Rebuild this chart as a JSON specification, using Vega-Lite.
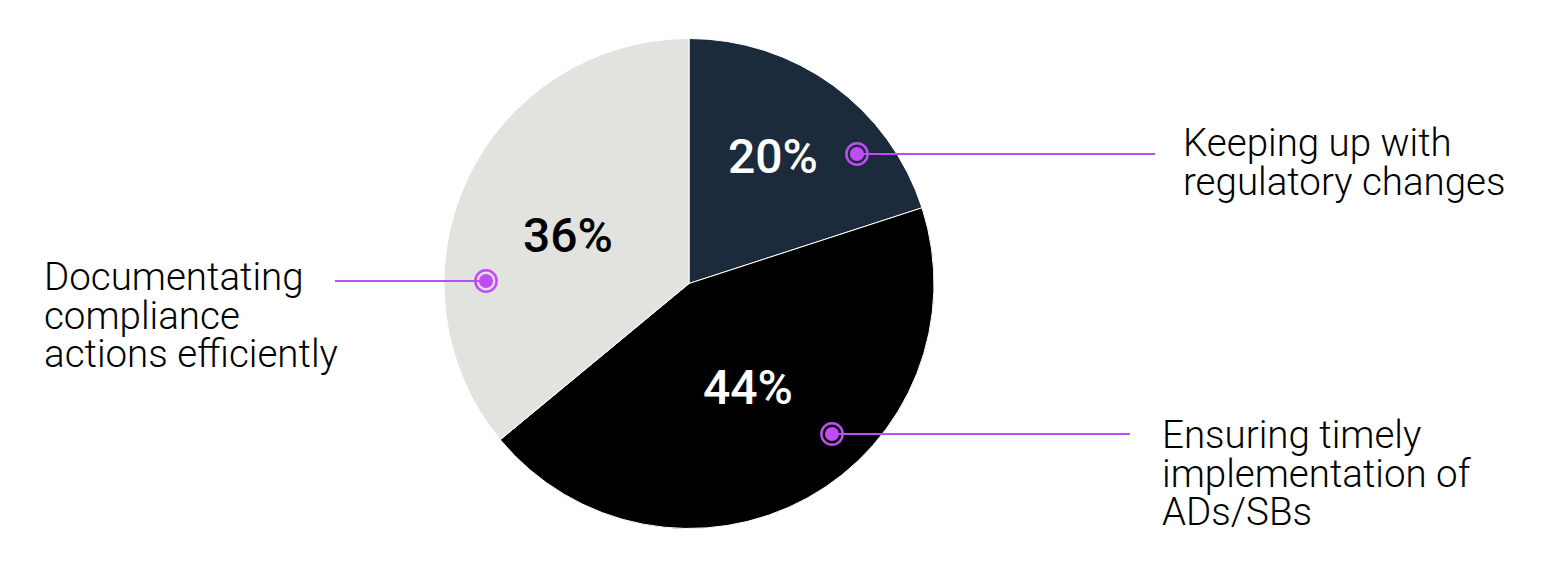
{
  "$schema": "https://vega.github.io/schema/vega-lite/v6.json",
  "width": 1378,
  "height": 567,
  "autosize": {"type": "none"},
  "padding": {"left": 0, "top": 0, "right": 175, "bottom": 0},
  "background": "white",
  "config": {"view": {"stroke": null}},
  "datasets": {
    "slices": [
      {"category": "Keeping up with regulatory changes", "share": 0.20, "rank": 1, "pctX": 773, "pctY": 173},
      {"category": "Ensuring timely implementation of ADs/SBs", "share": 0.44, "rank": 2, "pctX": 748, "pctY": 404},
      {"category": "Documentating compliance actions efficiently", "share": 0.36, "rank": 3, "pctX": 568, "pctY": 252}
    ],
    "callouts": [
      {"category": "Keeping up with regulatory changes", "text": "Keeping up with\nregulatory changes", "dotX": 857, "dotY": 154, "lineFrom": 857, "lineTo": 1155, "textX": 1183, "textY": 156},
      {"category": "Ensuring timely implementation of ADs/SBs", "text": "Ensuring timely\nimplementation of\nADs/SBs", "dotX": 832, "dotY": 434, "lineFrom": 832, "lineTo": 1130, "textX": 1162, "textY": 448},
      {"category": "Documentating compliance actions efficiently", "text": "Documentating\ncompliance\nactions efficiently", "dotX": 486, "dotY": 281, "lineFrom": 335, "lineTo": 486, "textX": 44, "textY": 290}
    ]
  },
  "layer": [
    {
      "data": {"name": "slices"},
      "mark": {"type": "arc", "outerRadius": 245, "stroke": "white", "strokeWidth": 1},
      "encoding": {
        "theta": {"field": "share", "type": "quantitative", "stack": true},
        "order": {"field": "rank", "type": "quantitative"},
        "color": {
          "field": "category",
          "type": "nominal",
          "scale": {
            "domain": ["Keeping up with regulatory changes", "Ensuring timely implementation of ADs/SBs", "Documentating compliance actions efficiently"],
            "range": ["#1b2b3c", "#000000", "#e2e2df"]
          },
          "legend": null
        }
      }
    },
    {
      "data": {"name": "slices"},
      "mark": {"type": "text", "font": "Roboto", "fontSize": 48, "fontWeight": 500, "align": "center", "baseline": "alphabetic"},
      "encoding": {
        "x": {"field": "pctX", "type": "quantitative", "scale": {"domain": [0, 1378], "nice": false, "zero": false}, "axis": null},
        "y": {"field": "pctY", "type": "quantitative", "scale": {"domain": [0, 567], "nice": false, "zero": false, "reverse": true}, "axis": null},
        "text": {"field": "share", "type": "quantitative", "format": ".0%"},
        "color": {"condition": {"test": "datum.rank === 3", "value": "#000000"}, "value": "#ffffff"}
      }
    },
    {
      "data": {"name": "callouts"},
      "mark": {"type": "rule", "color": "#c04cf5", "strokeWidth": 2},
      "encoding": {
        "x": {"field": "lineFrom", "type": "quantitative"},
        "x2": {"field": "lineTo"},
        "y": {"field": "dotY", "type": "quantitative"}
      }
    },
    {
      "data": {"name": "callouts"},
      "mark": {"type": "point", "shape": "circle", "filled": false, "stroke": "#c04cf5", "strokeWidth": 2.5, "size": 452, "opacity": 1},
      "encoding": {
        "x": {"field": "dotX", "type": "quantitative"},
        "y": {"field": "dotY", "type": "quantitative"}
      }
    },
    {
      "data": {"name": "callouts"},
      "mark": {"type": "point", "shape": "circle", "filled": true, "color": "#c04cf5", "size": 200, "opacity": 1},
      "encoding": {
        "x": {"field": "dotX", "type": "quantitative"},
        "y": {"field": "dotY", "type": "quantitative"}
      }
    },
    {
      "data": {"name": "callouts"},
      "mark": {"type": "text", "font": "Roboto", "fontSize": 38.5, "fontWeight": 300, "align": "left", "baseline": "alphabetic", "lineBreak": "\n", "lineHeight": 38.5, "color": "#000000"},
      "encoding": {
        "x": {"field": "textX", "type": "quantitative"},
        "y": {"field": "textY", "type": "quantitative"},
        "text": {"field": "text", "type": "nominal"}
      }
    }
  ]
}
